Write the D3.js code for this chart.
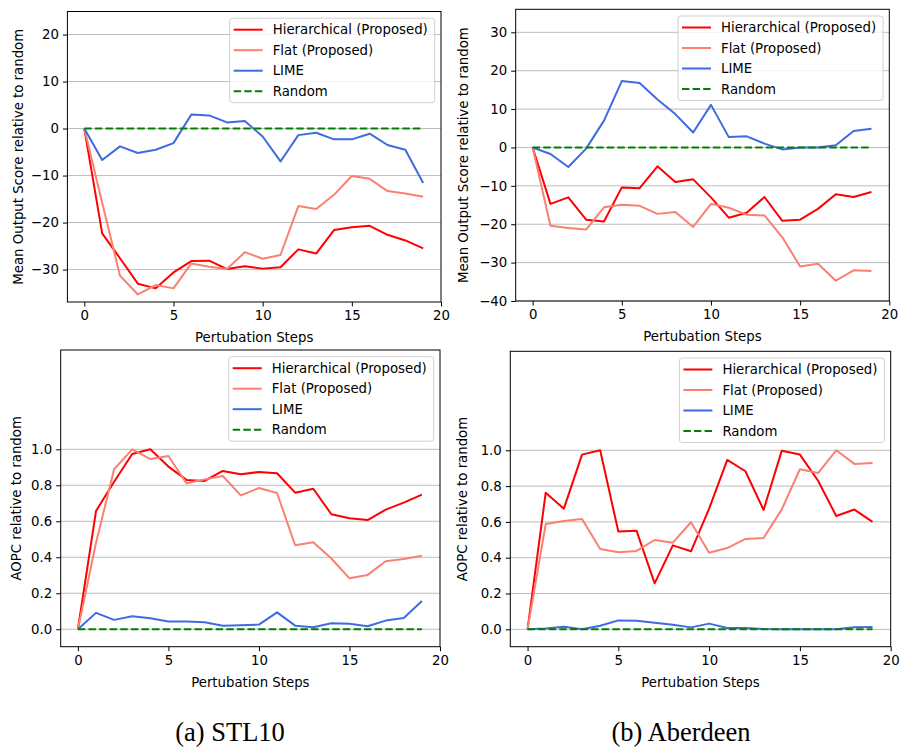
<!DOCTYPE html>
<html>
<head>
<meta charset="utf-8">
<script src="https://cdn.jsdelivr.net/npm/d3@7"></script>
<style>
  body { margin: 0; background: #fff; }
  svg { display: block; }
  text { font-family: "DejaVu Sans", sans-serif; }
</style>
</head>
<body>
<div id="svgContainer"></div>
<script>
const width = 901;
const height = 750;

// perturbation steps (x)
const steps = [0, 1, 2, 3, 4, 5, 6, 7, 8, 9, 10, 11, 12, 13, 14, 15, 16, 17, 18, 19];
const xTicks = [0, 5, 10, 15, 20];

const seriesNames = ["Hierarchical (Proposed)", "Flat (Proposed)", "LIME", "Random"];
const seriesColors = ["#ff0000", "#fa8072", "#4169e1", "#008000"];

// STL10 - mean output score
const stlScoreHier = [0, -22.3, -27.6, -33.0, -34.0, -30.6, -28.2, -28.1, -29.9, -29.3, -29.8, -29.5, -25.7, -26.6, -21.6, -21.0, -20.7, -22.6, -23.8, -25.5];
const stlScoreFlat = [0, -15.8, -31.3, -35.3, -33.3, -34.0, -28.7, -29.4, -29.9, -26.3, -27.7, -26.9, -16.5, -17.1, -14.1, -10.1, -10.7, -13.3, -13.8, -14.5];
const stlScoreLime = [0, -6.7, -3.8, -5.2, -4.5, -3.1, 3.0, 2.8, 1.3, 1.6, -1.7, -7.0, -1.4, -0.9, -2.3, -2.3, -1.1, -3.5, -4.5, -11.6];
const stlScoreRandom = [0, 0, 0, 0, 0, 0, 0, 0, 0, 0, 0, 0, 0, 0, 0, 0, 0, 0, 0, 0];
const stlScoreTicks = [-30, -20, -10, 0, 10, 20];

// Aberdeen - mean output score
const abdScoreHier = [0, -14.7, -13.0, -18.8, -19.3, -10.4, -10.6, -4.9, -9.0, -8.3, -13.0, -18.3, -17.0, -12.9, -19.1, -18.8, -16.0, -12.2, -12.9, -11.6];
const abdScoreFlat = [0, -20.4, -21.0, -21.4, -15.6, -14.9, -15.2, -17.3, -16.8, -20.7, -14.7, -15.7, -17.5, -17.7, -23.4, -31.0, -30.3, -34.7, -32.0, -32.2];
const abdScoreLime = [0, -1.7, -5.1, -0.3, 7.0, 17.3, 16.8, 12.5, 8.7, 3.9, 11.1, 2.7, 2.9, 1.0, -0.5, 0, 0, 0.6, 4.3, 4.9];
const abdScoreRandom = [0, 0, 0, 0, 0, 0, 0, 0, 0, 0, 0, 0, 0, 0, 0, 0, 0, 0, 0, 0];
const abdScoreTicks = [-40, -30, -20, -10, 0, 10, 20, 30];

// STL10 - AOPC
const stlAopcHier = [0, 0.657, 0.82, 0.974, 1.0, 0.904, 0.83, 0.824, 0.88, 0.861, 0.874, 0.867, 0.759, 0.781, 0.639, 0.617, 0.607, 0.665, 0.704, 0.748];
const stlAopcFlat = [0, 0.48, 0.889, 1.0, 0.946, 0.963, 0.811, 0.833, 0.852, 0.744, 0.785, 0.757, 0.467, 0.483, 0.393, 0.283, 0.302, 0.378, 0.391, 0.409];
const stlAopcLime = [0, 0.091, 0.052, 0.072, 0.061, 0.043, 0.043, 0.039, 0.019, 0.022, 0.026, 0.094, 0.02, 0.011, 0.033, 0.031, 0.017, 0.048, 0.063, 0.157];
const stlAopcRandom = [0, 0, 0, 0, 0, 0, 0, 0, 0, 0, 0, 0, 0, 0, 0, 0, 0, 0, 0, 0];

// Aberdeen - AOPC
const abdAopcHier = [0, 0.763, 0.674, 0.976, 1.0, 0.546, 0.551, 0.257, 0.469, 0.436, 0.674, 0.946, 0.883, 0.667, 0.998, 0.976, 0.83, 0.633, 0.669, 0.6];
const abdAopcFlat = [0, 0.588, 0.605, 0.616, 0.449, 0.43, 0.438, 0.499, 0.484, 0.598, 0.428, 0.454, 0.505, 0.51, 0.67, 0.894, 0.873, 1.0, 0.924, 0.929];
const abdAopcLime = [0, 0.004, 0.015, 0.0, 0.02, 0.05, 0.048, 0.037, 0.026, 0.011, 0.032, 0.007, 0.007, 0.002, 0, 0, 0, 0, 0.011, 0.013];
const abdAopcRandom = [0, 0, 0, 0, 0, 0, 0, 0, 0, 0, 0, 0, 0, 0, 0, 0, 0, 0, 0, 0];
const aopcTicks = [0, 0.2, 0.4, 0.6, 0.8, 1.0];

const captions = ["(a) STL10", "(b) Aberdeen"];

const svg = d3.select("#svgContainer").append("svg")
  .attr("width", width)
  .attr("height", height);

const fontSize = 13.3;

function drawPanel(p) {
  const x = d3.scaleLinear().domain([-0.95, 20]).range([p.left, p.right]);
  const y = d3.scaleLinear().domain(p.yDomain).range([p.bottom, p.top]);
  const g = svg.append("g");

  // grid
  g.append("g")
    .selectAll("line")
    .data(p.yTicks)
    .join("line")
      .attr("x1", p.left).attr("x2", p.right)
      .attr("y1", d => y(d)).attr("y2", d => y(d))
      .attr("stroke", "#bdbdbd")
      .attr("stroke-width", 1);

  const line = d3.line().x((d, i) => x(steps[i])).y(d => y(d));

  p.series.forEach(function(s, k) {
    g.append("path")
      .datum(s)
      .attr("fill", "none")
      .attr("stroke", seriesColors[k])
      .attr("stroke-width", 2)
      .attr("stroke-linejoin", "round")
      .attr("stroke-dasharray", k === 3 ? "7.4,3.2" : null)
      .attr("d", line);
  });

  // frame
  g.append("rect")
    .attr("x", p.left).attr("y", p.top)
    .attr("width", p.right - p.left).attr("height", p.bottom - p.top)
    .attr("fill", "none").attr("stroke", "#000").attr("stroke-width", 1);

  const xAxis = g.append("g")
    .attr("transform", `translate(0,${p.bottom})`)
    .call(d3.axisBottom(x).tickValues(xTicks).tickFormat(d3.format("d")).tickSize(4.5).tickPadding(4));
  const yAxis = g.append("g")
    .attr("transform", `translate(${p.left},0)`)
    .call(d3.axisLeft(y).tickValues(p.yTicks).tickFormat(p.yFormat).tickSize(4.5).tickPadding(4));
  [xAxis, yAxis].forEach(a => {
    a.select(".domain").remove();
    a.selectAll("text").attr("font-size", fontSize).attr("font-family", "DejaVu Sans").attr("fill", "#000");
    a.selectAll("line").attr("stroke", "#000");
  });

  g.append("text")
    .attr("x", (p.left + p.right) / 2)
    .attr("y", p.bottom + 40)
    .attr("text-anchor", "middle")
    .attr("font-size", fontSize)
    .text("Pertubation Steps");

  g.append("text")
    .attr("transform", `translate(${p.yLabelX},${(p.top + p.bottom) / 2}) rotate(-90)`)
    .attr("text-anchor", "middle")
    .attr("dy", "0.35em")
    .attr("font-size", fontSize)
    .text(p.yLabel);

  // legend
  const lw = 205, lh = 84.5;
  const lx = p.right - 6.3 - lw, ly = p.top + 6.7;
  const leg = g.append("g").attr("transform", `translate(${lx},${ly})`);
  leg.append("rect")
    .attr("width", lw).attr("height", lh)
    .attr("rx", 3)
    .attr("fill", "#fff").attr("fill-opacity", 0.8)
    .attr("stroke", "#d0d0d0").attr("stroke-width", 1);
  seriesNames.forEach(function(name, k) {
    const yy = 11.5 + k * 20.5;
    leg.append("line")
      .attr("x1", 4).attr("x2", 33)
      .attr("y1", yy).attr("y2", yy)
      .attr("stroke", seriesColors[k])
      .attr("stroke-width", 2)
      .attr("stroke-dasharray", k === 3 ? "7.4,3.2" : null);
    leg.append("text")
      .attr("x", 43).attr("y", yy)
      .attr("dy", "0.35em")
      .attr("font-size", fontSize)
      .text(name);
  });
}

drawPanel({
  left: 67.4, right: 441, top: 11.5, bottom: 302,
  yDomain: [-36.9, 24.9], yTicks: stlScoreTicks, yFormat: d3.format("d"),
  yLabel: "Mean Output Score relative to random", yLabelX: 18,
  series: [stlScoreHier, stlScoreFlat, stlScoreLime, stlScoreRandom]
});
drawPanel({
  left: 515.7, right: 889.3, top: 9.3, bottom: 301,
  yDomain: [-40, 36], yTicks: abdScoreTicks, yFormat: d3.format("d"),
  yLabel: "Mean Output Score relative to random", yLabelX: 463,
  series: [abdScoreHier, abdScoreFlat, abdScoreLime, abdScoreRandom]
});
drawPanel({
  left: 60.7, right: 440, top: 350, bottom: 646.7,
  yDomain: [-0.097, 1.552], yTicks: aopcTicks, yFormat: d3.format(".1f"),
  yLabel: "AOPC relative to random", yLabelX: 16,
  series: [stlAopcHier, stlAopcFlat, stlAopcLime, stlAopcRandom]
});
drawPanel({
  left: 510.3, right: 890.7, top: 351.3, bottom: 646.7,
  yDomain: [-0.097, 1.553], yTicks: aopcTicks, yFormat: d3.format(".1f"),
  yLabel: "AOPC relative to random", yLabelX: 462,
  series: [abdAopcHier, abdAopcFlat, abdAopcLime, abdAopcRandom]
});

// captions
svg.selectAll(".caption")
  .data(captions)
  .join("text")
    .attr("class", "caption")
    .attr("x", (d, i) => i === 0 ? 230 : 681)
    .attr("y", 741)
    .attr("text-anchor", "middle")
    .style("font-family", "'Liberation Serif', serif")
    .attr("font-size", 26.5)
    .text(d => d);
</script>
</body>
</html>
